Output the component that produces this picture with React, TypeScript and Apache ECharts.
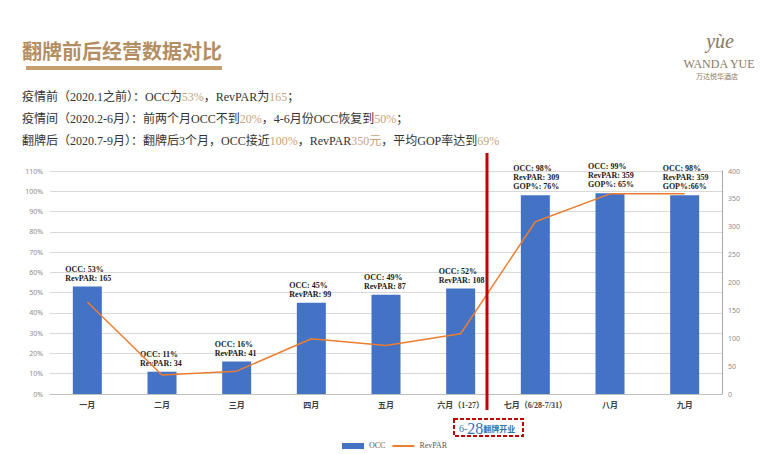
import React, { useEffect, useRef } from "react";
import * as echarts from "echarts";

const categories = ["一月", "二月", "三月", "四月", "五月", "六月（1-27）", "七月（6/28-7/31）", "八月", "九月"];
const occ = [53, 11, 16, 45, 49, 52, 98, 99, 98];
const revpar = [165, 34, 41, 99, 87, 108, 309, 359, 359];
const gop = ["", "", "", "", "", "", "76%", "65%", "66%"];
const leftTicks = [0, 110, 10];
const rightTicks = [0, 400, 50];

const title = "翻牌前后经营数据对比";
const line1 = [["疫情前（2020.1之前）：OCC为", "n"], ["53%", "h"], ["，RevPAR为", "n"], ["165", "h"], ["；", "n"]];
const line2 = [["疫情间（2020.2-6月）：前两个月OCC不到", "n"], ["20%", "h"], ["，4-6月份OCC恢复到", "n"], ["50%", "h"], ["；", "n"]];
const line3 = [["翻牌后（2020.7-9月）：翻牌后3个月，OCC接近", "n"], ["100%", "h"], ["，RevPAR", "n"], ["350元", "h"], ["，平均GOP率达到", "n"], ["69%", "h"]];

const SERIF = "'Liberation Serif', 'DejaVu Serif', 'Noto Sans CJK SC', serif";
const SANS = "'Noto Sans', 'Noto Sans CJK SC', sans-serif";

function richLine(parts: string[][]) {
  return parts.map(([t, k]) => `{${k}|${t}}`).join("");
}

export default function App() {
  const ref = useRef<HTMLDivElement>(null);
  useEffect(() => {
    if (!ref.current) return;
    const chart = echarts.init(ref.current, undefined, { renderer: "svg" });
    const rich = {
      n: { fontSize: 12, fontFamily: SERIF, fill: "#333333", color: "#333333" },
      h: { fontSize: 12, fontFamily: SERIF, fill: "#C9A37A", color: "#C9A37A" },
    };
    const textLines = [line1, line2, line3].map((l, i) => ({
      type: "text",
      left: 22,
      top: 91 + i * 22,
      style: { text: richLine(l), rich, font: `12px ${SERIF}` },
    }));
    chart.setOption({
      animation: false,
      backgroundColor: "#ffffff",
      grid: { left: 50, right: 51, top: 171, bottom: 60 },
      legend: {
        left: 337,
        top: 437,
        itemWidth: 22,
        itemHeight: 6,
        itemGap: 6,
        textStyle: { fontSize: 8, color: "#595959", fontFamily: SERIF },
        data: [
          { name: "OCC", icon: "rect" },
          { name: "RevPAR", itemStyle: { opacity: 0 } },
        ],
      },
      xAxis: {
        type: "category",
        data: categories,
        axisTick: { show: false },
        axisLine: { lineStyle: { color: "#BFBFBF" } },
        axisLabel: { fontSize: 8, fontWeight: "bold", color: "#404040", fontFamily: SERIF, margin: 7, interval: 0 },
      },
      yAxis: [
        {
          type: "value",
          min: leftTicks[0],
          max: leftTicks[1],
          interval: leftTicks[2],
          axisLabel: { formatter: "{value}%", fontSize: 7, color: "#8C8C8C", fontFamily: SANS, margin: 7 },
          splitLine: { lineStyle: { color: "#D9D9D9" } },
          axisLine: { show: false },
        },
        {
          type: "value",
          min: rightTicks[0],
          max: rightTicks[1],
          interval: rightTicks[2],
          axisLabel: { fontSize: 7, color: "#8C8C8C", fontFamily: SANS, margin: 6 },
          splitLine: { show: false },
          axisLine: { show: true, lineStyle: { color: "#A6A6A6" } },
          axisTick: { show: false },
        },
      ],
      series: [
        {
          name: "OCC",
          type: "bar",
          data: occ,
          barWidth: 29,
          itemStyle: { color: "#4472C4" },
          label: {
            show: true,
            position: "top",
            distance: 4,
            fontSize: 8,
            lineHeight: 9,
            fontWeight: "bold",
            color: "#1a1a1a",
            fontFamily: SERIF,
            align: "left",
            offset: [-22, 0],
            formatter: (p: any) => {
              const i = p.dataIndex;
              const lines = [`OCC: ${occ[i]}%`, `RevPAR: ${revpar[i]}`];
              if (gop[i]) lines.push(i === 8 ? `GOP%:${gop[i]}` : `GOP%: ${gop[i]}`);
              return lines.join("\n");
            },
          },
        },
        {
          name: "RevPAR",
          type: "line",
          yAxisIndex: 1,
          data: revpar,
          symbol: "none",
          lineStyle: { color: "#ED7D31", width: 1.5 },
          itemStyle: { color: "#ED7D31" },
        },
      ],
      graphic: [
        {
          type: "text",
          left: 22,
          top: 40,
          style: { text: title, font: `bold 20px 'Noto Sans CJK SC', sans-serif`, fill: "#B38E62" },
        },
        { type: "rect", shape: { x: 26, y: 66, width: 196, height: 4 }, style: { fill: "#C4A06E" } },
        ...textLines,
        {
          type: "text",
          x: 720,
          y: 41,
          style: { text: "yùe", font: `italic 20px ${SERIF}`, fill: "#8A7864", align: "center", verticalAlign: "middle" },
        },
        {
          type: "text",
          x: 719,
          y: 64,
          style: { text: "WANDA YUE", font: `12px ${SERIF}`, fill: "#8A7864", align: "center", verticalAlign: "middle" },
        },
        {
          type: "text",
          x: 717,
          y: 76,
          style: { text: "万达悦华酒店", font: `7px 'Noto Sans CJK SC', sans-serif`, fill: "#8A7864", align: "center", verticalAlign: "middle" },
        },
        {
          type: "line",
          shape: { x1: 487, y1: 153, x2: 487, y2: 410 },
          style: { stroke: "#C00000", lineWidth: 3 },
          z: 100,
        },
        {
          type: "rect",
          shape: { x: 454, y: 419, width: 69, height: 17 },
          style: { fill: "none", stroke: "#C00000", lineWidth: 2, lineDash: [4, 2] },
          z: 100,
        },
        {
          type: "text",
          x: 459,
          y: 428,
          z: 101,
          style: {
            text: "{a|6-}{b|28}{c|翻牌开业}",
            verticalAlign: "middle",
            rich: {
              a: { fontSize: 10, fill: "#2E75B6", color: "#2E75B6", fontFamily: SERIF },
              b: { fontSize: 16, fill: "#2E75B6", color: "#2E75B6", fontFamily: SERIF },
              c: { fontSize: 8, fontWeight: "bold", fill: "#2E75B6", color: "#2E75B6", fontFamily: "'Noto Sans CJK SC', sans-serif" },
            },
          },
        },
      ],
    });
    return () => chart.dispose();
  }, []);
  return <div ref={ref} style={{ position: "fixed", left: 0, top: 0, width: 773, height: 454 }} />;
}
